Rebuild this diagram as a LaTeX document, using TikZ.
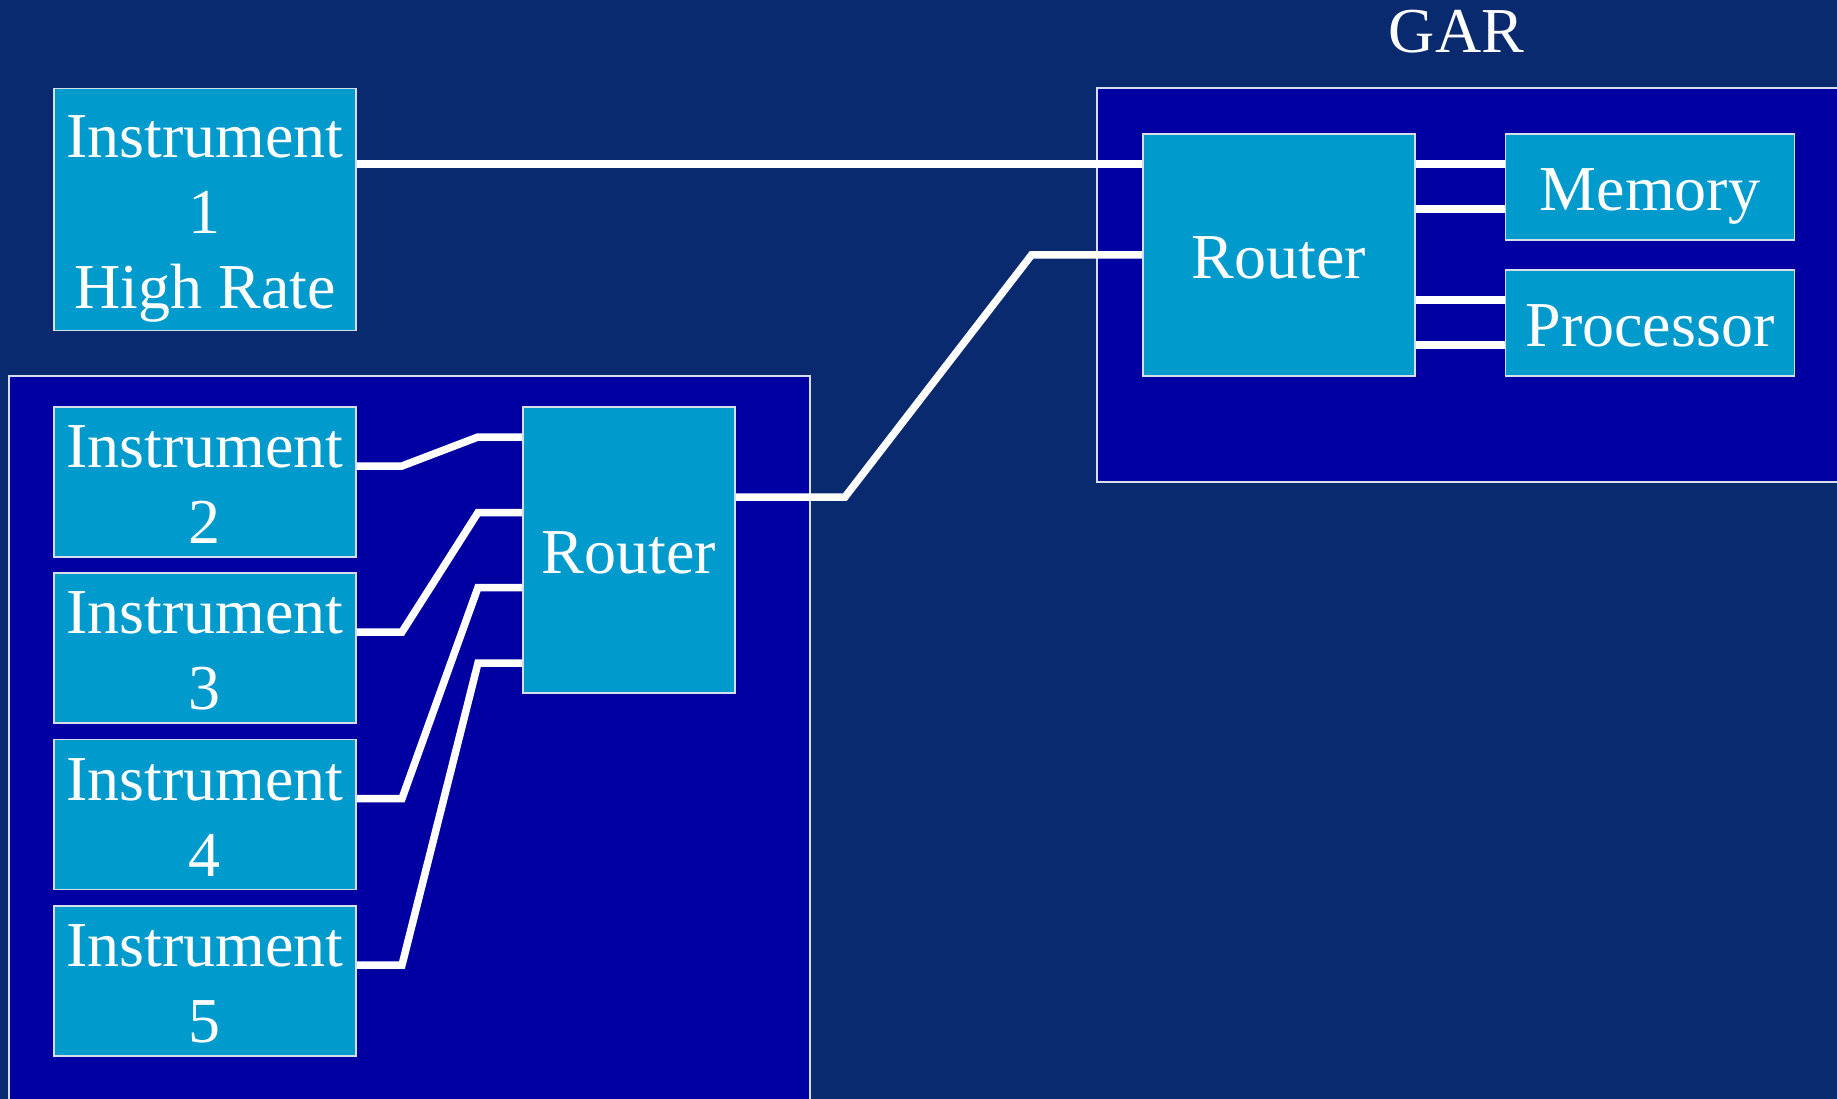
\documentclass[tikz,border=0pt]{standalone}
\usepackage{fontspec}
\setmainfont{Liberation Serif}
\definecolor{bg}{RGB}{9,42,110}
\definecolor{panelblue}{RGB}{0,0,162}
\definecolor{cyanbox}{RGB}{0,154,205}
\definecolor{edgegray}{RGB}{215,222,235}
\newcommand\pl[1]{\smash{#1}\rule[-3pt]{0pt}{53pt}}
\pgfdeclarelayer{panels}
\pgfdeclarelayer{wires}
\pgfsetlayers{panels,wires,main}
\begin{document}
\begin{tikzpicture}[x=1pt,y=-1pt,
  box/.style={draw=edgegray, line width=1.5pt, fill=cyanbox, text=white,
    inner sep=0pt, outer sep=0pt, font=\fontsize{64pt}{76pt}\selectfont, align=center},
  panelbox/.style={draw=edgegray, line width=1.5pt, fill=panelblue, inner sep=0pt, outer sep=0pt},
  wire/.style={draw=white, line width=7.5pt, line join=miter}]
\clip (0,0) rectangle (1837,1099);
\begin{pgfonlayer}{panels}
\fill[bg] (0,0) rectangle (1837,1099);
\node[panelbox, minimum width=801pt, minimum height=744pt] (lp) at (409.5,748) {};
\node[panelbox, minimum width=760pt, minimum height=394pt] (gp) at (1477,285) {};
\end{pgfonlayer}
\node[text=white, font=\fontsize{64pt}{76pt}\selectfont, anchor=base, inner sep=0pt] (gar) at (1456.5,53) {GAR};

\node[box, minimum width=302pt, minimum height=242pt] (i1) at (205,209.5) {\pl{Instrument}\\\pl{1}\\\pl{High Rate}};
\node[box, minimum width=302pt, minimum height=150pt] (i2) at (205,482) {\pl{Instrument}\\\pl{2}};
\node[box, minimum width=302pt, minimum height=150pt] (i3) at (205,648) {\pl{Instrument}\\\pl{3}};
\node[box, minimum width=302pt, minimum height=150pt] (i4) at (205,814.5) {\pl{Instrument}\\\pl{4}};
\node[box, minimum width=302pt, minimum height=150pt] (i5) at (205,981) {\pl{Instrument}\\\pl{5}};
\node[box, minimum width=212pt, minimum height=286pt] (lr) at (629,550) {\pl{Router}};
\node[box, minimum width=272pt, minimum height=242pt] (gr) at (1279,255) {\pl{Router}};
\node[box, minimum width=289pt, minimum height=106pt] (mem) at (1650,187) {\pl{Memory}};
\node[box, minimum width=289pt, minimum height=106pt] (proc) at (1650,323) {\pl{Processor}};

\begin{pgfonlayer}{wires}
\draw[wire] ([yshift=45.5pt]i1.east) -- ([yshift=45.5pt]i1.east -| gr.west);
\draw[wire] ([yshift=53pt]lr.east) -- ++(110,0) -- ([xshift=-111.5pt]gr.west) -- (gr.west);
\draw[wire] ([yshift=23pt]mem.west -| gr.east) -- ([yshift=23pt]mem.west);
\draw[wire] ([yshift=-22pt]mem.west -| gr.east) -- ([yshift=-22pt]mem.west);
\draw[wire] ([yshift=23pt]proc.west -| gr.east) -- ([yshift=23pt]proc.west);
\draw[wire] ([yshift=-22pt]proc.west -| gr.east) -- ([yshift=-22pt]proc.west);
\draw[wire] ([yshift=16pt]i2.east) -- ++(46,0) -- ([xshift=-45pt,yshift=113pt]lr.west) -- ([yshift=113pt]lr.west);
\draw[wire] ([yshift=16pt]i3.east) -- ++(46,0) -- ([xshift=-45pt,yshift=37.5pt]lr.west) -- ([yshift=37.5pt]lr.west);
\draw[wire] ([yshift=16pt]i4.east) -- ++(46,0) -- ([xshift=-45pt,yshift=-37.5pt]lr.west) -- ([yshift=-37.5pt]lr.west);
\draw[wire] ([yshift=16pt]i5.east) -- ++(46,0) -- ([xshift=-45pt,yshift=-113pt]lr.west) -- ([yshift=-113pt]lr.west);
\end{pgfonlayer}
\end{tikzpicture}
\end{document}
